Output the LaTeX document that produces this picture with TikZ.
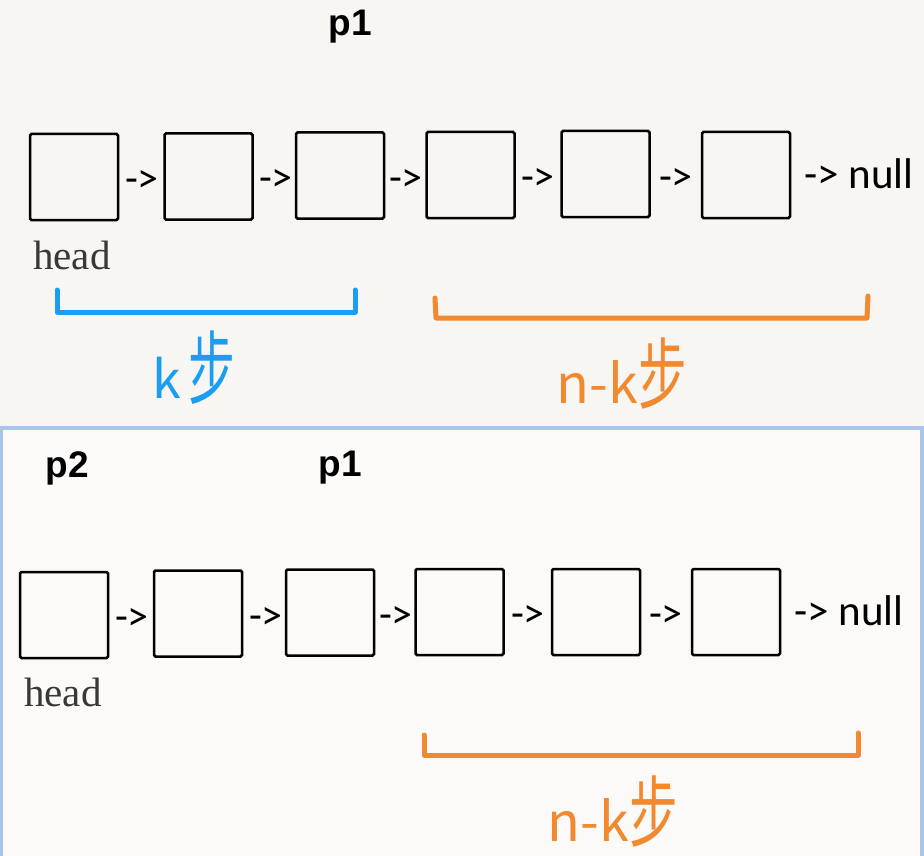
\documentclass[tikz,border=0pt]{standalone}
\usepackage{fontspec}
\setmainfont{Liberation Serif}
\newfontfamily\cjk{Noto Sans CJK SC}
\newfontfamily\arrowfont{Carlito}
\newfontfamily\boldsans{Liberation Sans}
\definecolor{paper}{HTML}{F8F6F3}
\definecolor{paperb}{HTML}{FBFAF8}
\definecolor{frameblue}{HTML}{A9C5E8}
\definecolor{penblue}{HTML}{1C9EF0}
\definecolor{penorange}{HTML}{F0892F}
\definecolor{headgray}{HTML}{383838}
\tikzset{
  cell/.style={draw=black, line width=2.5pt, rounded corners=1.5pt, minimum width=88pt, minimum height=86pt, inner sep=0pt},
  link/.style={font=\arrowfont\fontsize{42}{42}\selectfont, inner sep=0pt, anchor=center},
  nulltxt/.style={font=\arrowfont\fontsize{43}{43}\selectfont, inner sep=0pt, anchor=west},
  ptr/.style={font=\boldsans\bfseries\fontsize{37}{37}\selectfont, inner sep=0pt},
  headlbl/.style={font=\fontsize{41}{41}\selectfont, text=headgray, inner sep=0pt, anchor=west},
  pen/.style={line width=5pt, line cap=round, line join=round},
  hand/.style={font=\cjk, inner sep=0pt}
}
\begin{document}
\begin{tikzpicture}[x=1pt,y=-1pt]
\useasboundingbox (0,0) rectangle (924,856);
\fill[paper] (0,0) rectangle (924,856);
% bottom panel frame
\fill[paperb] (2,428) rectangle (921,858);
\draw[frameblue, line width=4pt] (1,860) -- (1,428) -- (922,428) -- (922,860);

% ---------- top panel ----------
\node[ptr] (p1a) at (350,27) {p1};
\node[cell] (t1) at (74,177) {};
\node[cell] (t2) at (208.5,176.5) {};
\node[cell] (t3) at (340,175.5) {};
\node[cell] (t4) at (470.5,175) {};
\node[cell] (t5) at (605.5,174) {};
\node[cell] (t6) at (746,175) {};
\node[link] (ta1) at (142,181) {->};
\node[link] (ta2) at (276,180) {->};
\node[link] (ta3) at (406,180) {->};
\node[link] (ta4) at (538,179) {->};
\node[link] (ta5) at (676,179) {->};
\node[nulltxt] (tnull) at (804,174) {-> null};
\node[headlbl] (thead) at (33,255) {head};

\coordinate (bl1) at (57,290);
\coordinate (bl2) at (57,312);
\coordinate (bl3) at (355,312);
\coordinate (bl4) at (355,290);
\draw[pen, penblue] (bl1) -- (bl2) -- (bl3) -- (bl4);
\node[hand, text=penblue] (klbl) at (194,368) {\fontsize{52}{52}\selectfont k\hspace{8pt}\scalebox{0.9}[1.55]{步}};

\coordinate (ol1) at (435,298);
\coordinate (ol2) at (436,318);
\coordinate (ol3) at (867,318);
\coordinate (ol4) at (868,296);
\draw[pen, penorange] (ol1) -- (ol2) -- (ol3) -- (ol4);
\node[hand, text=penorange] (nklbl) at (622,374) {\fontsize{54}{54}\selectfont n-k\scalebox{0.9}[1.45]{步}};

% ---------- bottom panel ----------
\node[ptr] (p2b) at (67,468) {p2};
\node[ptr] (p1b) at (340,468) {p1};
\node[cell] (b1) at (64,615) {};
\node[cell] (b2) at (198,613.5) {};
\node[cell] (b3) at (330,612.5) {};
\node[cell] (b4) at (459.5,612) {};
\node[cell] (b5) at (596,612) {};
\node[cell] (b6) at (736,612) {};
\node[link] (ba1) at (132,619) {->};
\node[link] (ba2) at (266,618) {->};
\node[link] (ba3) at (396,617) {->};
\node[link] (ba4) at (528,616) {->};
\node[link] (ba5) at (666,616) {->};
\node[nulltxt] (bnull) at (794,611) {-> null};
\node[headlbl] (bhead) at (24,692) {head};

\coordinate (ob1) at (424,735);
\coordinate (ob2) at (424,755);
\coordinate (ob3) at (858,755);
\coordinate (ob4) at (858,733);
\draw[pen, penorange] (ob1) -- (ob2) -- (ob3) -- (ob4);
\node[hand, text=penorange] (nklbl2) at (613,812) {\fontsize{54}{54}\selectfont n-k\scalebox{0.9}[1.45]{步}};
\end{tikzpicture}
\end{document}
